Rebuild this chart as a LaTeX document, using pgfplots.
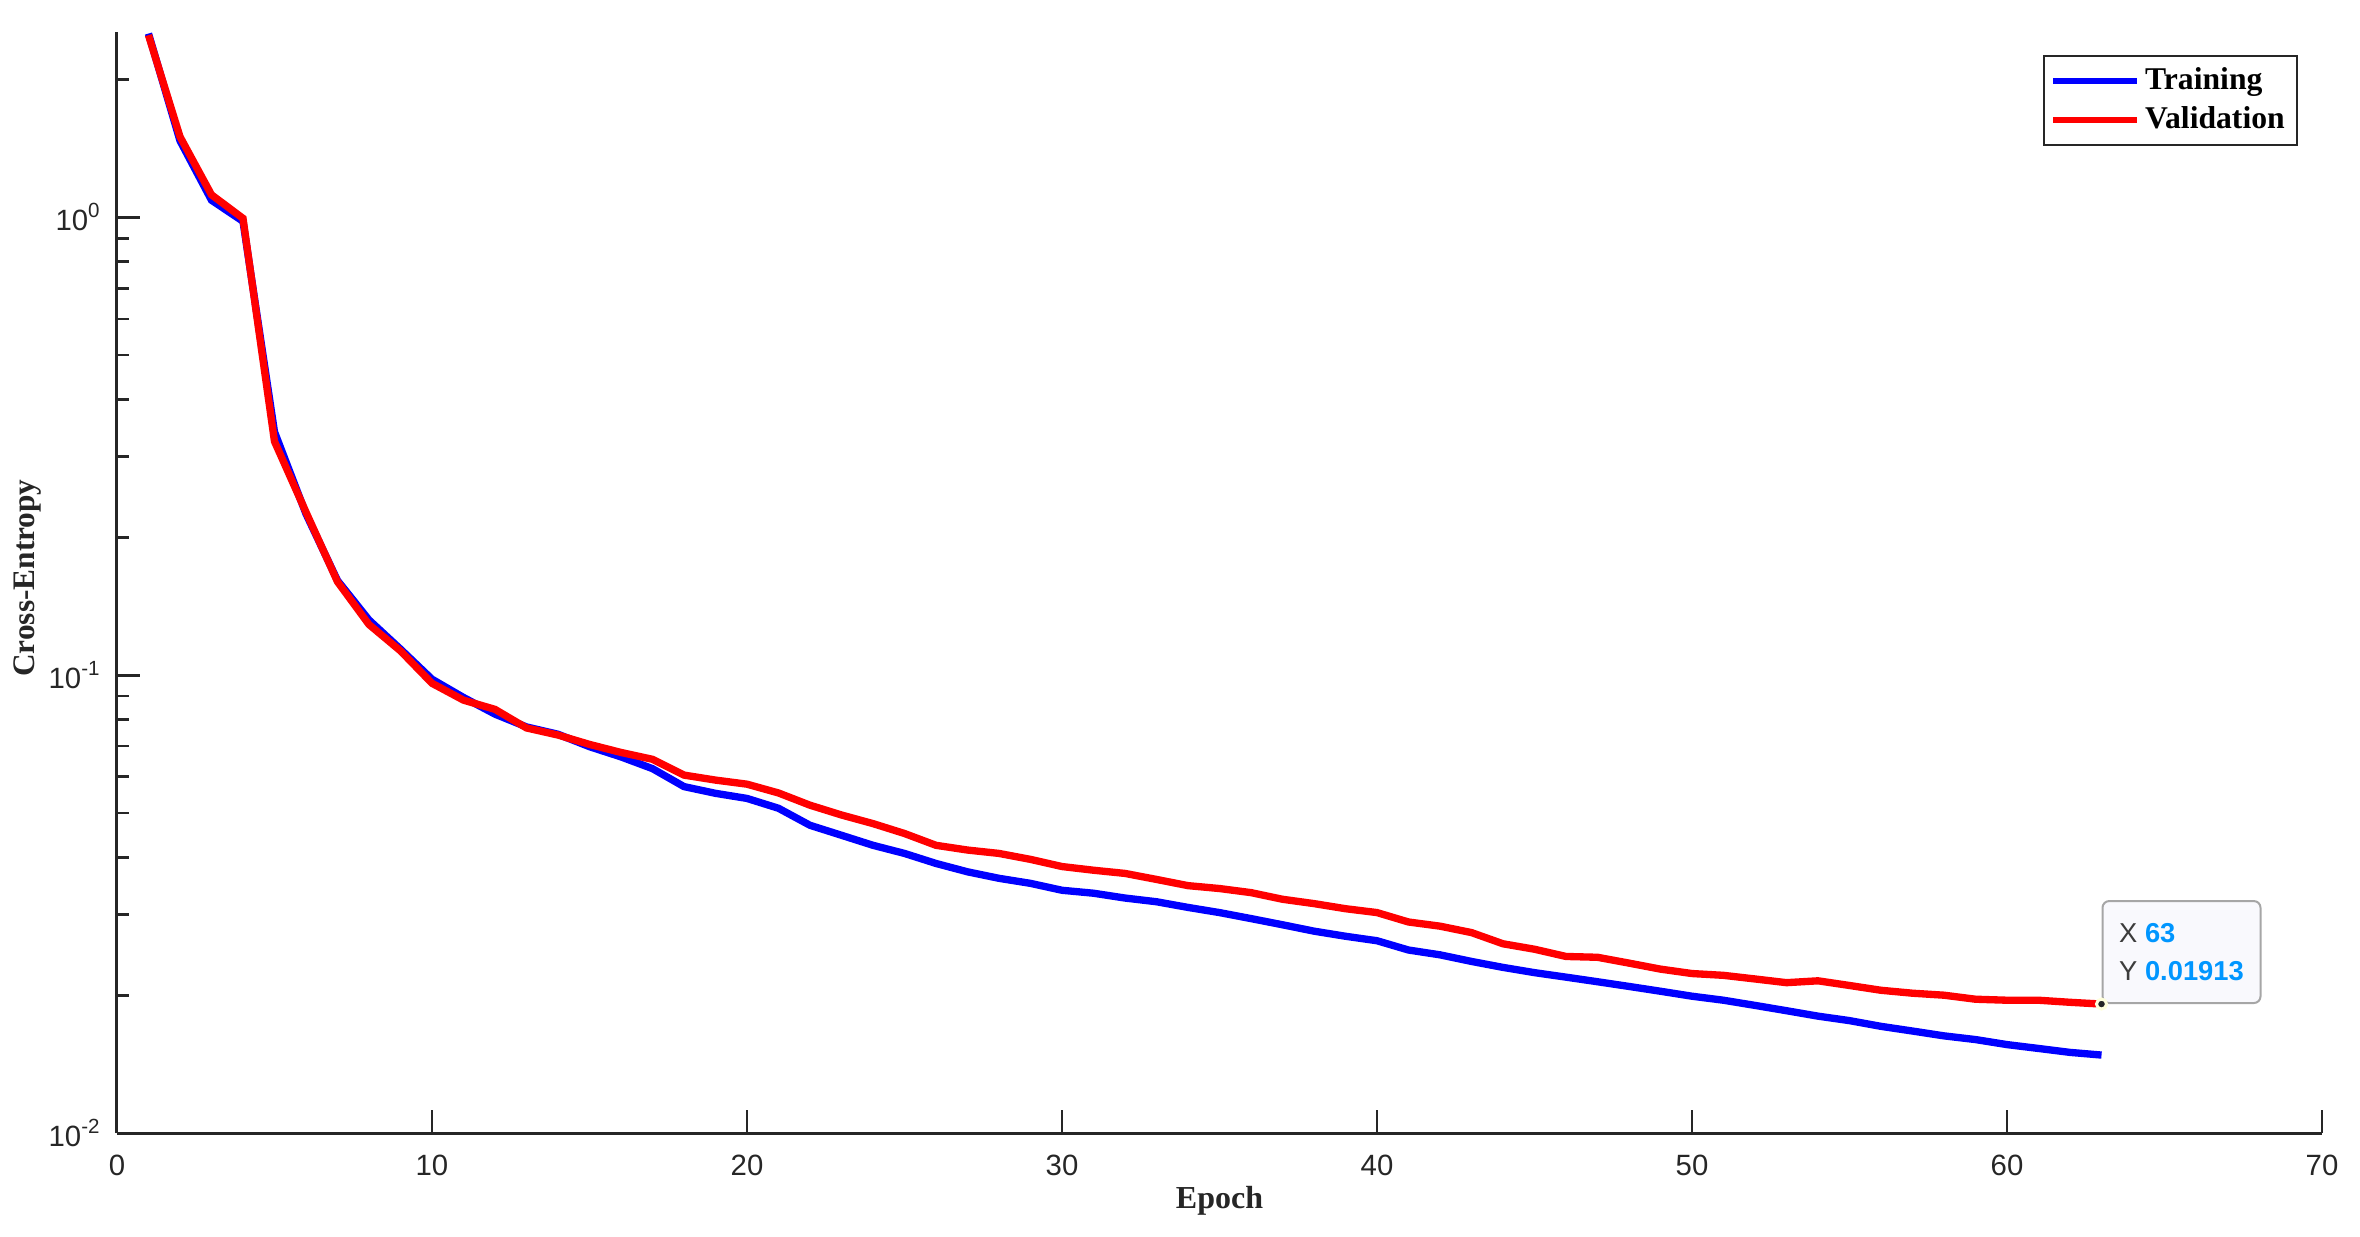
\documentclass[border=0pt]{standalone}
\usepackage{fontspec}
\setmainfont{Liberation Serif}
\setsansfont{Liberation Sans}
\usepackage{pgfplots}
\pgfplotsset{compat=1.18}
\definecolor{axgray}{RGB}{38,38,38}
\definecolor{tipgray}{RGB}{166,166,166}
\definecolor{tipfill}{RGB}{249,249,253}
\definecolor{tipblue}{RGB}{0,150,255}
\definecolor{tipdark}{RGB}{60,60,60}
\definecolor{halo}{RGB}{255,255,220}
\begin{document}
\begin{tikzpicture}
\useasboundingbox (-35.1pt,-31.2pt) rectangle (672.9pt,339.9pt);
\begin{axis}[
  at={(0,0)}, anchor=south west,
  scale only axis, width=661.5pt, height=330.3pt,
  ymode=log,
  xmin=0, xmax=70, ymin=0.01, ymax=2.54,
  axis x line=bottom, axis y line=left,
  axis line style={-, draw=axgray, line width=0.9pt},
  tick align=inside,
  tick style={draw=axgray, line width=0.8pt},
  major tick length=6.9pt, minor tick length=3.6pt,
  xtick={0,10,20,30,40,50,60,70},
  ytick={0.01,0.1,1},
  yticklabels={10\textsuperscript{-2},10\textsuperscript{-1},10\textsuperscript{0}},
  minor ytick={0.02,0.03,0.04,0.05,0.06,0.07,0.08,0.09,0.2,0.3,0.4,0.5,0.6,0.7,0.8,0.9,2},
  /pgf/number format/assume math mode=true,
  ticklabel style={font=\sffamily\fontsize{8.8}{10}\selectfont, text=axgray},
  xticklabel style={yshift=-3.2pt},
  yticklabel style={xshift=-1.2pt},
  xlabel={Epoch}, ylabel={Cross-Entropy},
  xlabel style={at={(axis description cs:0.5,-0.0618)}, anchor=center, font=\bfseries\fontsize{9.6}{11}\selectfont, text=axgray},
  ylabel style={at={(axis description cs:-0.0404,0.504)}, anchor=center, font=\bfseries\fontsize{9.4}{11}\selectfont, text=axgray},
  clip=false,
  legend style={at={(axis description cs:0.989,0.979)}, anchor=north east,
    draw=axgray, line width=0.6pt, fill=white,
    font=\bfseries\fontsize{9.5}{11}\selectfont,
    inner xsep=2pt, inner ysep=1.5pt, row sep=-0.6pt,
    nodes={inner xsep=1.6pt}},
  legend cell align=left,
  legend image code/.code={\draw[#1, line width=1.8pt] (0pt,0pt) -- (25pt,0pt);},
]
\addplot[blue, line width=2.2pt] coordinates {
(1,2.52) (2,1.47) (3,1.09) (4,0.98) (5,0.34) (6,0.225) (7,0.161) (8,0.132) (9,0.114) (10,0.098)
(11,0.0894) (12,0.0822) (13,0.0771) (14,0.0743) (15,0.0698) (16,0.0663) (17,0.0625) (18,0.0571) (19,0.0552) (20,0.0538)
(21,0.0512) (22,0.0470) (23,0.0447) (24,0.0425) (25,0.0408) (26,0.0388) (27,0.0372) (28,0.0360) (29,0.0351) (30,0.0339)
(31,0.0334) (32,0.0326) (33,0.0320) (34,0.0311) (35,0.0303) (36,0.0294) (37,0.0285) (38,0.0276) (39,0.0269) (40,0.0263)
(41,0.0251) (42,0.0245) (43,0.0237) (44,0.0230) (45,0.0224) (46,0.0219) (47,0.0214) (48,0.0209) (49,0.0204) (50,0.0199)
(51,0.0195) (52,0.0190) (53,0.0185) (54,0.0180) (55,0.0176) (56,0.0171) (57,0.0167) (58,0.0163) (59,0.0160) (60,0.0156)
(61,0.0153) (62,0.0150) (63,0.0148)
};
\addlegendentry{Training}
\addplot[red, line width=2.2pt] coordinates {
(1,2.50) (2,1.50) (3,1.12) (4,0.995) (5,0.324) (6,0.227) (7,0.160) (8,0.129) (9,0.113) (10,0.096)
(11,0.0882) (12,0.0842) (13,0.0767) (14,0.0740) (15,0.0706) (16,0.0678) (17,0.0655) (18,0.0605) (19,0.0590) (20,0.0578)
(21,0.0553) (22,0.0520) (23,0.0495) (24,0.0474) (25,0.0451) (26,0.0425) (27,0.0415) (28,0.0408) (29,0.0396) (30,0.0382)
(31,0.0375) (32,0.0369) (33,0.0358) (34,0.0347) (35,0.0342) (36,0.0335) (37,0.0324) (38,0.0317) (39,0.0309) (40,0.0303)
(41,0.0289) (42,0.0283) (43,0.0274) (44,0.0259) (45,0.0252) (46,0.0243) (47,0.0242) (48,0.0235) (49,0.0228) (50,0.0223)
(51,0.0221) (52,0.0217) (53,0.0213) (54,0.0215) (55,0.0210) (56,0.0205) (57,0.0202) (58,0.0200) (59,0.0196) (60,0.0195)
(61,0.0195) (62,0.0193) (63,0.01913)
};
\addlegendentry{Validation}
\addplot[only marks, mark=*, mark size=1.5pt, mark options={fill=black!85, draw=halo, line width=0.9pt}, forget plot] coordinates {(63,0.01913)};
\node[draw=tipgray, line width=0.6pt, fill=tipfill, rounded corners=2pt, anchor=south west,
  minimum width=47.4pt, minimum height=30.6pt, inner xsep=4.2pt, inner ysep=3pt, align=left,
  font=\sffamily\fontsize{8.2}{11.4}\selectfont]
  at (axis cs:63,0.01913) {\textcolor{tipdark}{X} \textcolor{tipblue}{\bfseries 63}\\\textcolor{tipdark}{Y} \textcolor{tipblue}{\bfseries 0.01913}};
\end{axis}
\end{tikzpicture}
\end{document}
